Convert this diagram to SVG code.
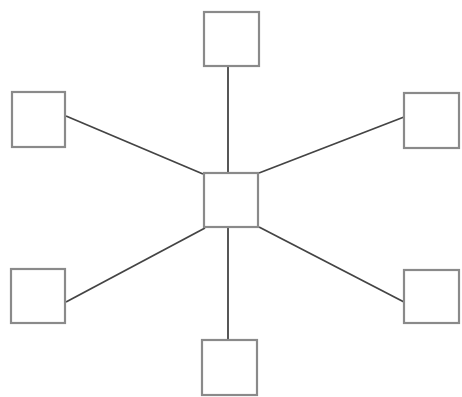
<svg xmlns="http://www.w3.org/2000/svg" width="462" height="397" viewBox="0 0 462 397">
<style>
.node{fill:#fff;stroke:#8a8a8a;stroke-width:2.2}
.link{stroke:#444;stroke-width:1.8;fill:none}
</style>
<rect width="462" height="397" fill="#fff"/>
<g id="connectors">
<line class="link" x1="228" y1="66" x2="228" y2="173"/>
<line class="link" x1="228" y1="227" x2="228" y2="340"/>
<line class="link" x1="66" y1="116" x2="203" y2="174"/>
<line class="link" x1="404" y1="117" x2="259" y2="173"/>
<line class="link" x1="66" y1="302" x2="205" y2="228"/>
<line class="link" x1="259" y1="227" x2="404" y2="302"/>
</g>
<g id="node-center"><rect class="node" x="204" y="173" width="54" height="54"/></g>
<g id="node-top"><rect class="node" x="204" y="12" width="55" height="54"/></g>
<g id="node-bottom"><rect class="node" x="202" y="340" width="55" height="55"/></g>
<g id="node-left-top"><rect class="node" x="12" y="92" width="53" height="55"/></g>
<g id="node-right-top"><rect class="node" x="404" y="93" width="55" height="55"/></g>
<g id="node-left-bottom"><rect class="node" x="11" y="269" width="54" height="54"/></g>
<g id="node-right-bottom"><rect class="node" x="404" y="270" width="55" height="53"/></g>
</svg>
